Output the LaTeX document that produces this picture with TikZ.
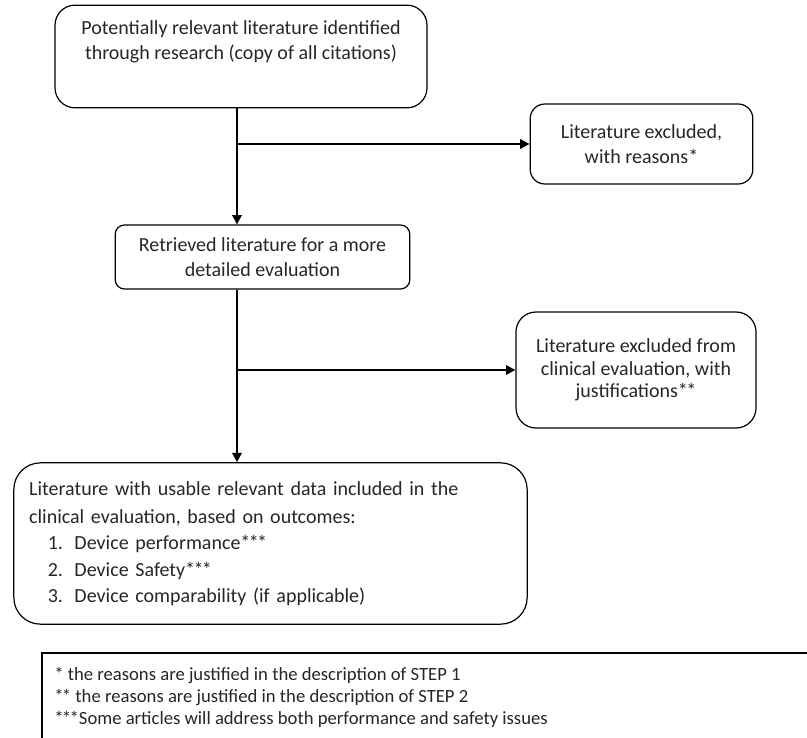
\documentclass[tikz,border=0pt]{standalone}
\usepackage{fontspec}
\setmainfont{Carlito}
\usetikzlibrary{arrows.meta}

% tightly set footnote marks
\newcommand{\mkone}{*}
\newcommand{\mktwo}{*\kern-1.2pt*}
\newcommand{\mkthree}{*\kern-1.2pt*\kern-1.2pt*}

\tikzset{
  flowbox/.style={draw=black, line width=0.9pt, align=center, inner sep=0pt,
    font=\fontsize{15pt}{19pt}\selectfont, text=black!85},
  flowline/.style={line width=1.6pt, -{Triangle[length=7pt,width=7pt]}},
  notetext/.style={align=left, anchor=north west, inner sep=0pt,
    font=\fontsize{14pt}{16.5pt}\selectfont, text=black!85},
}

\begin{document}
\begin{tikzpicture}[x=0.75pt, y=-0.75pt]
  \useasboundingbox (0,0) rectangle (807,738);

  % main column
  \node[flowbox, rounded corners=15pt, minimum width=279pt, minimum height=77pt]
    (found) at (241,56.5)
    {Potentially relevant literature identified\\
     through research (copy of all citations)\\ \strut};

  \node[flowbox, rounded corners=7pt, minimum width=221pt, minimum height=48pt]
    (retrieved) at (262.5,257)
    {Retrieved literature for a more\\ detailed evaluation};

  \node[flowbox, rounded corners=20pt, minimum width=385pt, minimum height=121pt,
        align=left, text width=362pt, font=\fontsize{15pt}{19.8pt}\selectfont]
    (included) at (270.5,543.5)
    {Literature with usable relevant data included in the\\[1.5pt]
     clinical evaluation, based on outcomes:\\
     \hspace*{14pt}\makebox[20pt][l]{1.}Device performance\mkthree\\
     \hspace*{14pt}\makebox[20pt][l]{2.}Device Safety\mkthree\\
     \hspace*{14pt}\makebox[20pt][l]{3.}Device comparability (if applicable)};

  % side boxes
  \node[flowbox, rounded corners=11pt, minimum width=167pt, minimum height=60pt]
    (excl1) at (641.5,144)
    {Literature excluded,\\ with reasons\mkone};

  \node[flowbox, rounded corners=15pt, minimum width=180pt, minimum height=87pt,
        font=\fontsize{15pt}{17pt}\selectfont]
    (excl2) at (636,370)
    {Literature excluded from\\ clinical evaluation, with\\ justifications\mktwo};

  % connectors
  \coordinate (trunk) at (237,0);
  \draw[flowline] (found.south -| trunk) -- (retrieved.north -| trunk);
  \draw[flowline] (excl1.west -| trunk) -- (excl1.west);
  \draw[flowline] (retrieved.south -| trunk) -- (included.north -| trunk);
  \draw[flowline] (excl2.west -| trunk) -- (excl2.west);

  % footnotes
  \coordinate (noteTR) at (807,653);
  \coordinate (noteBL) at (42,738);
  \draw[line width=0.9pt] (noteTR) -| (noteBL);
  \node[notetext] (notes) at (54,667)
    {\mkone{} the reasons are justified in the description of STEP 1\\
     \mktwo{} the reasons are justified in the description of STEP 2\\
     \mkthree Some articles will address both performance and safety issues};
\end{tikzpicture}
\end{document}
